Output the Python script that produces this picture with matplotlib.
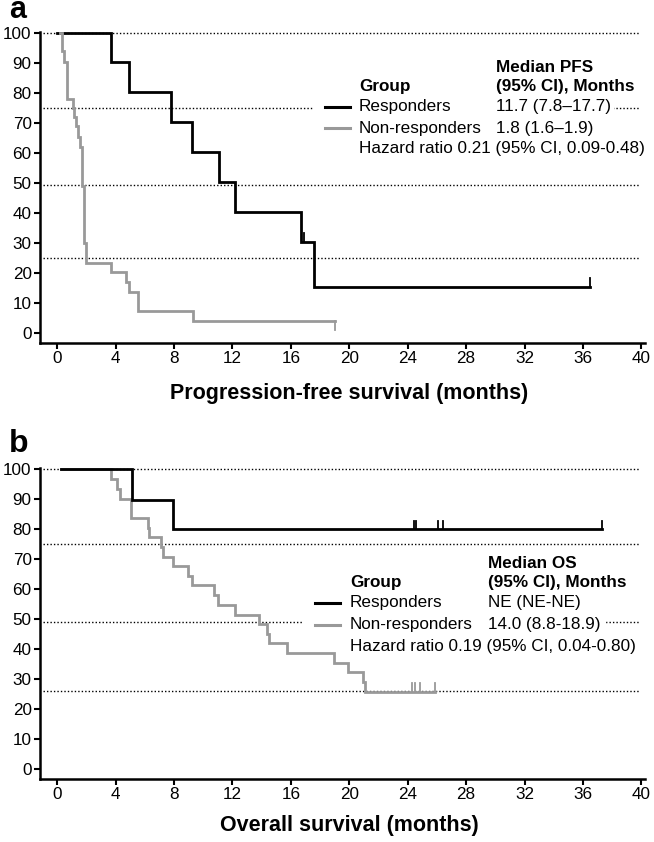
import numpy as np
import matplotlib.pyplot as plt
from matplotlib.patches import Rectangle

plt.rcParams["font.family"] = ["Liberation Sans", "DejaVu Sans"]

W, H = 654, 842  # output size in px (dpi 100)

# ---- panel a: progression-free survival, KM steps (time in months, % after step) ----
pfs_resp_t = [0, 3.7, 4.9, 7.8, 9.2, 11.1, 12.2, 16.7, 17.6, 36.5]
pfs_resp_s = [100, 90.5, 80.5, 70.5, 60.5, 50.5, 40.5, 30.5, 15.5, 15.5]
pfs_resp_cens = [16.9, 36.5]

pfs_nr_t = [0.2, 0.3, 0.45, 0.64, 1.05, 1.14, 1.28, 1.44, 1.58, 1.71, 1.80, 1.97,
            3.7, 4.7, 4.9, 5.55, 9.3, 19.0]
pfs_nr_s = [100, 94, 90.5, 78, 75, 72, 69, 65.5, 62, 49, 30, 23.5,
            20.5, 17, 13.7, 7.5, 4, 4]
pfs_nr_cens = [19.0]

# ---- panel b: overall survival ----
os_resp_t = [0.25, 5.15, 7.9, 37.3]
os_resp_s = [100, 89.8, 80, 80]
os_resp_cens = [24.45, 24.55, 26.05, 26.4, 37.3]

os_nr_t = [0.25, 3.68, 4.11, 4.3, 5.05, 6.19, 6.28, 7.1, 7.26, 7.95, 8.93, 9.2,
           10.75, 11.03, 12.17, 13.83, 14.34, 14.52, 15.71, 18.97, 19.93, 20.95,
           21.05, 25.9]
os_nr_s = [100, 96.8, 93.5, 90, 83.9, 80.6, 77.4, 74, 70.9, 67.7, 64.5, 61.3,
           58, 54.8, 51.6, 48.4, 45.2, 42, 38.7, 35.5, 32.3, 29.1,
           25.9, 25.9]
os_nr_cens = [24.27, 24.5, 24.84, 25.9]

ref_a = [100, 75, 49.5, 25]
ref_b = [100, 75.3, 49, 26]

groups = ["Responders", "Non-responders"]
pfs_median = ["11.7 (7.8\u201317.7)", "1.8 (1.6\u20131.9)"]
os_median = ["NE (NE-NE)", "14.0 (8.8-18.9)"]
pfs_hr = "Hazard ratio 0.21 (95% CI, 0.09-0.48)"
os_hr = "Hazard ratio 0.19 (95% CI, 0.04-0.80)"

BLACK, GRAY = "#000000", "#999999"


def fx(x):
    return x / W


def fy(y):
    return 1 - y / H


def level_at(t, s, x):
    i = np.searchsorted(t, x, side="right") - 1
    return s[max(i, 0)]


def km(ax, t, s, cens, color, down=False):
    ax.step(t, s, where="post", color=color, lw=2, zorder=3, solid_joinstyle="miter")
    for c in cens:
        y = level_at(t, s, c)
        ax.plot([c, c], [y, y - 2.8 if down else y + 2.8], color=color, lw=1.3, zorder=3)


def style(ax, refs, gap):
    ax.set_xlim(-1.18, 40.25)
    ax.set_ylim(-3.3, 100.5)
    ax.set_xticks(range(0, 41, 4))
    ax.set_yticks(range(0, 101, 10))
    for sp in ("top", "right"):
        ax.spines[sp].set_visible(False)
    for sp in ("left", "bottom"):
        ax.spines[sp].set_linewidth(1.8)
    ax.tick_params(direction="out", length=4, width=1.5, labelsize=12.3, pad=2)
    for r in refs:
        ax.axhline(r, xmin=0.005, xmax=0.99, color="k", lw=1.0, ls=(0, (1, 1.5)), zorder=1)
    # white band hiding the dotted line behind the legend row
    x0, x1, y0, y1 = gap
    ax.add_patch(Rectangle((fx(x0), fy(y1)), fx(x1) - fx(x0), fy(y0) - fy(y1),
                           transform=ax.figure.transFigure, color="white", zorder=2))


def legend(fig, x_line, x_grp, x_med, y_head, y_rows, title, medians, hr):
    fs = 12.3
    fig.text(fx(x_med), fy(y_head - 19), f"Median {title}", fontsize=fs, weight="bold", va="center")
    fig.text(fx(x_med), fy(y_head), "(95% CI), Months", fontsize=fs, weight="bold", va="center")
    fig.text(fx(x_grp), fy(y_head), "Group", fontsize=fs, weight="bold", va="center")
    for g, m, col, y in zip(groups, medians, [BLACK, GRAY], y_rows):
        fig.add_artist(plt.Line2D([fx(x_line), fx(x_line + 25)], [fy(y), fy(y)], color=col, lw=2.2))
        fig.text(fx(x_grp), fy(y), g, fontsize=fs, va="center")
        fig.text(fx(x_med), fy(y), m, fontsize=fs, va="center")
    fig.text(fx(x_grp), fy(y_rows[-1] + 21), hr, fontsize=fs, va="center")


fig = plt.figure(figsize=(W / 100, H / 100), dpi=100)
ax_a = fig.add_axes([fx(40), fy(343), fx(645) - fx(40), fy(31.7) - fy(343)])
ax_b = fig.add_axes([fx(40), fy(779), fx(645) - fx(40), fy(468) - fy(779)])

km(ax_a, pfs_resp_t, pfs_resp_s, pfs_resp_cens, BLACK)
km(ax_a, pfs_nr_t, pfs_nr_s, pfs_nr_cens, GRAY, down=True)
style(ax_a, ref_a, (313, 613, 100, 117))

km(ax_b, os_nr_t, os_nr_s, os_nr_cens, GRAY)
km(ax_b, os_resp_t, os_resp_s, os_resp_cens, BLACK)
style(ax_b, ref_b, (303, 605, 614, 631))

fig.text(fx(349), fy(393), "Progression-free survival (months)", fontsize=15.5, weight="bold",
         ha="center", va="center")
fig.text(fx(349), fy(826), "Overall survival (months)", fontsize=15.5, weight="bold",
         ha="center", va="center")
fig.text(fx(9), fy(18), "a", fontsize=22, weight="bold", va="baseline")
fig.text(fx(9), fy(452), "b", fontsize=23, weight="bold", va="baseline")

legend(fig, 325, 359, 496, 86, [107, 128], "PFS", pfs_median, pfs_hr)
legend(fig, 315, 350, 488, 582, [603, 625], "OS", os_median, os_hr)

fig.savefig("out.png", dpi=100)
